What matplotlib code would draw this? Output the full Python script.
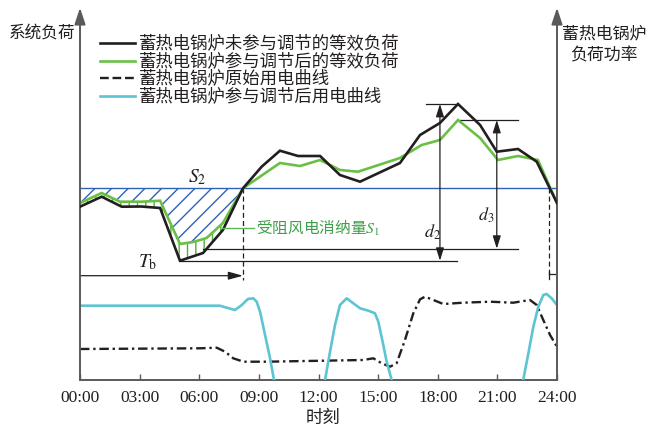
import numpy as np
import matplotlib
matplotlib.use("Agg")
import matplotlib.pyplot as plt
from matplotlib.lines import Line2D

plt.rcParams['font.family'] = ['Noto Sans CJK SC', 'DejaVu Sans']
plt.rcParams['mathtext.fontset'] = 'stix'
plt.rcParams['hatch.linewidth'] = 1.0

# ---------------- data (hours, relative load) ----------------
black_x = [0, 1.09, 2.10, 3.07, 4.03, 5.03, 6.19, 7.19, 8.20, 9.14, 10.06, 10.97,
           12.08, 13.08, 14.09, 16.10, 17.11, 18.11, 19.02, 20.13, 20.97, 22.04, 22.98, 24]
black_y = [173.3, 183.3, 173.3, 173.5, 172, 119.3, 127, 150, 191.7, 213.3, 229.3, 224,
           224, 205, 198.3, 217, 245, 257, 276, 255, 228.3, 231, 218.3, 177]

green_x = [0, 1.09, 2.01, 3.10, 4.03, 5.03, 5.69, 6.37, 7.19, 8.20, 10.06, 11.07,
           12.08, 13.08, 13.99, 16.10, 17.19, 18.11, 19.02, 20.13, 21.03, 22.04, 23.04, 24]
green_y = [177, 187, 178.3, 178.3, 179.3, 136, 138, 142, 157, 191.7, 217, 214,
           220, 210, 208.3, 222, 235, 240, 260, 242, 220, 224, 220, 177]

base_level = 191.7   # horizontal blue reference line

cyan_x = [0, 7.04, 7.38, 7.80, 8.14, 8.45, 8.72, 8.89, 9.06, 9.31, 9.56, 9.76, 9.90,
          11.0, 12.2,
          12.33, 12.58, 12.83, 13.08, 13.42, 13.75, 14.09, 14.51, 14.84, 15.01, 15.26,
          15.43, 15.68, 15.80,
          22.2,
          22.30, 22.56, 22.81, 23.06, 23.31, 23.48, 23.73, 24]
cyan_y = [74.3, 74.3, 72.3, 70, 75, 81, 81.7, 78.3, 68.3, 45, 22, 0, -15,
          -30, -15,
          0, 28.3, 55, 75, 81.7, 76.7, 71.7, 69.3, 66.7, 58.3, 35,
          18.3, 0, -15,
          -15,
          0, 26.7, 53.3, 73.3, 85, 86, 81.7, 75]

orig_x = [0, 6.04, 6.88, 7.30, 7.71, 8.22, 9.39, 14.25, 14.76, 15.18, 15.60, 15.93,
          16.35, 16.77, 17.11, 17.36, 17.78, 18.28, 19.28, 20.63, 21.80, 22.64, 22.98,
          23.31, 23.65, 24]
orig_y = [31, 31.7, 32.3, 28.3, 21.7, 18.3, 18.3, 20, 21.7, 16.7, 13.3, 16.7,
          40, 66.7, 80.7, 83.3, 80, 76, 77.3, 78.3, 77.3, 80, 75,
          60, 45, 33.3]

xticks = [0, 3, 6, 9, 12, 15, 18, 21, 24]
xtick_labels = ['00:00', '03:00', '06:00', '09:00', '12:00', '15:00', '18:00', '21:00', '24:00']

legend_labels = ['蓄热电锅炉未参与调节的等效负荷', '蓄热电锅炉参与调节后的等效负荷',
                 '蓄热电锅炉原始用电曲线', '蓄热电锅炉参与调节后用电曲线']

# ---------------- styles ----------------
C_BLACK = '#231f20'
C_GREEN = '#6abf45'
C_CYAN = '#5cc4d2'
C_BLUE = '#2d62b8'
C_AXIS = '#5a5a5a'
DASHDOT = (0, (4, 1.6, 1, 1.6))

fig = plt.figure(figsize=(6.48, 4.32), dpi=100)
ax = fig.add_axes([80/648, 52/432, 477/648, 370/432])
ax.set_xlim(0, 24)
ax.set_ylim(0, 370)

# hatched regions (left part up to crossing at 8.2 h)
n = 10
gx = np.array(green_x[:n]); gy = np.array(green_y[:n])
bx = np.array(black_x[:9]); by = np.array(black_y[:9])
ax.fill(np.concatenate([[0], gx]), np.concatenate([[base_level], gy]),
        facecolor='none', edgecolor=C_BLUE, hatch='//', linewidth=0, zorder=1)
ax.fill(np.concatenate([gx, bx[::-1]]), np.concatenate([gy, by[::-1]]),
        facecolor='none', edgecolor='#4caf3f', hatch='||', linewidth=0, zorder=1)

ax.axhline(base_level, color=C_BLUE, lw=1.0, zorder=2)

l1, = ax.plot(black_x, black_y, color=C_BLACK, lw=1.9, zorder=4, solid_joinstyle='miter')
l2, = ax.plot(green_x, green_y, color=C_GREEN, lw=1.9, zorder=3, solid_joinstyle='miter')
l3, = ax.plot(orig_x, orig_y, color=C_BLACK, lw=1.7, ls=DASHDOT, zorder=3)
l4, = ax.plot(cyan_x, cyan_y, color=C_CYAN, lw=1.9, zorder=3)

# ---------------- annotations ----------------
lw_a = 0.9
# d2
ax.plot([17.41, 19.02], [276, 276], color=C_BLACK, lw=lw_a)
ax.plot([5.03, 18.97], [119.3, 119.3], color=C_BLACK, lw=lw_a)
ax.annotate('', xy=(18.11, 276), xytext=(18.11, 119.3),
            arrowprops=dict(arrowstyle='<|-|>,head_length=0.7,head_width=0.22',
                            color=C_BLACK, lw=lw_a, shrinkA=0, shrinkB=0, mutation_scale=11))
# d3
ax.plot([19.12, 22.04], [260, 260], color=C_BLACK, lw=lw_a)
ax.plot([6.2, 22.04], [131.3, 131.3], color=C_BLACK, lw=lw_a)
ax.annotate('', xy=(20.97, 260), xytext=(20.97, 131.3),
            arrowprops=dict(arrowstyle='<|-|>,head_length=0.7,head_width=0.22',
                            color=C_BLACK, lw=lw_a, shrinkA=0, shrinkB=0, mutation_scale=11))
# Tb
ax.annotate('', xy=(8.2, 104.3), xytext=(0, 104.3),
            arrowprops=dict(arrowstyle='-|>,head_length=0.8,head_width=0.22',
                            color=C_BLACK, lw=lw_a, shrinkA=0, shrinkB=0, mutation_scale=11))
ax.plot([8.2, 8.2], [191.7, 100], color=C_BLACK, lw=0.9, ls=(0, (4, 2.5)))
# right side dashed
ax.plot([23.6, 23.6], [191.7, 106], color=C_BLACK, lw=0.9, ls=(0, (4, 2.5)))
ax.plot([23.6, 24], [105.7, 105.7], color=C_BLACK, lw=0.9)
ax.plot([23.6, 23.6], [100.7, 108.5], color=C_BLACK, lw=0.9)

# leader to S1
ax.plot([7.15, 8.75], [152, 152], color='#5cb85c', lw=1.0, zorder=5)
ax.text(8.85, 152, '受阻风电消纳量$S_1$', color='#3f9f4a', fontsize=11.3,
        ha='left', va='center')

ax.text(5.9, 203, '$S_2$', fontsize=14, ha='center', va='center', color=C_BLACK)
ax.text(3.4, 118, r'$T_\mathrm{b}$', fontsize=14, ha='center', va='center', color=C_BLACK)
ax.text(17.75, 148, '$d_2$', fontsize=13, ha='center', va='center', color=C_BLACK)
ax.text(20.45, 165, '$d_3$', fontsize=13, ha='center', va='center', color=C_BLACK)

# ---------------- axes ----------------
for s in ['top', 'left', 'right']:
    ax.spines[s].set_visible(False)
ax.spines['bottom'].set_color(C_AXIS)
ax.spines['bottom'].set_linewidth(1.4)
ax.set_yticks([])
ax.set_xticks(xticks)
ax.set_xticklabels(xtick_labels, fontfamily='Liberation Serif', fontsize=12.5, color=C_BLACK)
ax.tick_params(axis='x', direction='in', length=4, width=1.0, color=C_AXIS, pad=7)

for xf in (0, 1):
    ax.annotate('', xy=(xf, 1.006), xycoords='axes fraction', xytext=(xf, 0),
                textcoords='axes fraction',
                arrowprops=dict(arrowstyle='-|>,head_length=0.9,head_width=0.3',
                                color=C_AXIS, lw=1.4, shrinkA=0, shrinkB=0,
                                mutation_scale=11), annotation_clip=False)

fig.text(42/648, 1 - 33/432, '系统负荷', fontsize=12, ha='center', va='center', color=C_BLACK)
fig.text(604/648, 1 - 33/432, '蓄热电锅炉', fontsize=12.2, ha='center', va='center', color=C_BLACK)
fig.text(604/648, 1 - 55/432, '负荷功率', fontsize=12.2, ha='center', va='center', color=C_BLACK)
fig.text(323/648, 1 - 418/432, '时刻', fontsize=12.5, ha='center', va='center', color=C_BLACK)

# ---------------- legend (manual) ----------------
handles = [l1, l2, l3, l4]
rows_y = [43, 61, 78, 96]
for h, lab, py in zip(handles, legend_labels, rows_y):
    yf = 1 - py / 432
    fig.add_artist(Line2D([100/648, 135/648], [yf, yf], transform=fig.transFigure,
                          color=h.get_color(), lw=h.get_linewidth(),
                          linestyle=h.get_linestyle()))
    fig.text(139/648, yf, lab, fontsize=12.5, ha='left', va='center', color=C_BLACK)

fig.savefig('out.png', dpi=100)
